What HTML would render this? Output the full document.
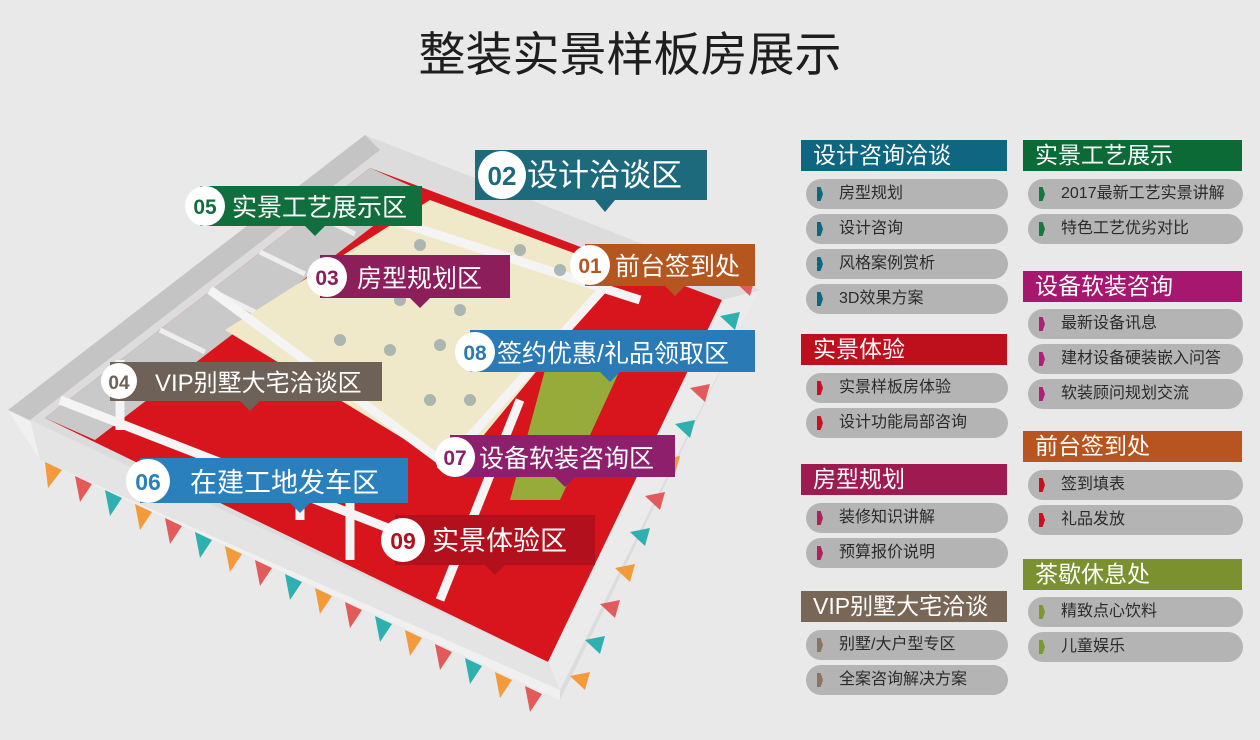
<!DOCTYPE html>
<html><head><meta charset="utf-8"><style>
body{margin:0;width:1260px;height:740px;background:#e9e9e9;position:relative;overflow:hidden;font-family:"Liberation Sans","Noto Sans CJK SC",sans-serif}
.t{position:absolute;left:0;width:1260px;top:16px;text-align:center;font-size:47px;color:#1e1e1e;letter-spacing:0px}
.h{position:absolute;height:31px;line-height:31px;color:#fff;font-size:23px;padding-left:12px;box-sizing:border-box}
.p{position:absolute;height:30px;line-height:30px;background:#b4b4b4;border-radius:15px;font-size:16px;color:#2b2b2b;padding-left:33px;box-sizing:border-box}
.p i{position:absolute;left:11px;top:8px;width:6px;height:14px;clip-path:polygon(0 0,60% 0,100% 50%,60% 100%,0 100%,0 0)}
svg{position:absolute;left:0;top:0}
</style></head><body>
<div class="t">整装实景样板房展示</div>
<svg width="790" height="740" viewBox="0 0 790 740">
<polygon points="8,410 365,135 760,290 560,700" fill="#dcdcdc"/>
<polygon points="8,410 365,135 380,150 30,420" fill="#c4c4c4"/>
<polygon points="45,418 370,168 722,300 548,662" fill="#d8141c"/>
<polygon points="45,418 370,168 420,190 95,440" fill="#c9c9c9"/>
<g stroke="#eeeeee" stroke-width="5">
<line x1="110" y1="368" x2="155" y2="390"/><line x1="160" y1="330" x2="205" y2="352"/><line x1="210" y1="290" x2="255" y2="312"/><line x1="260" y1="252" x2="305" y2="274"/><line x1="310" y1="212" x2="355" y2="234"/>
</g>
<polygon points="225,330 430,200 620,270 455,470" fill="#efe8c9"/>
<polygon points="8,410 40,460 560,700 560,690" fill="#f0f0f0"/>
<polygon points="40,460 30,420 548,662 560,690" fill="#e4e4e4"/>
<polygon points="548,662 560,690 760,290 722,300" fill="#ebebeb"/>
<g stroke="#f4f4f4" stroke-width="9" fill="none">
<line x1="60" y1="400" x2="470" y2="560"/><line x1="210" y1="290" x2="440" y2="460"/>
<line x1="330" y1="200" x2="640" y2="300"/><line x1="440" y1="470" x2="620" y2="270"/>
<line x1="120" y1="360" x2="120" y2="430"/><line x1="300" y1="470" x2="300" y2="520"/>
<line x1="350" y1="500" x2="350" y2="560"/><line x1="520" y1="400" x2="440" y2="600"/>
</g>
<g fill="#9aa" opacity=".8">
<circle cx="420" cy="245" r="6"/><circle cx="350" cy="285" r="6"/><circle cx="400" cy="300" r="6"/><circle cx="460" cy="310" r="6"/><circle cx="520" cy="250" r="6"/><circle cx="560" cy="270" r="6"/><circle cx="340" cy="340" r="6"/><circle cx="390" cy="350" r="6"/><circle cx="440" cy="345" r="6"/><circle cx="470" cy="400" r="6"/><circle cx="430" cy="400" r="6"/>
</g>
<polygon points="545,370 620,370 560,500 510,500" fill="#8cc63f" opacity=".85"/>
<g>
<polygon points="45,462 62,470 48,488" fill="#f39a3a"/><polygon points="75,476 92,484 80,502" fill="#e35a5a"/><polygon points="105,490 122,498 110,516" fill="#2fb0b0"/><polygon points="135,504 152,512 140,530" fill="#f39a3a"/><polygon points="165,518 182,526 170,544" fill="#e35a5a"/><polygon points="195,532 212,540 200,558" fill="#2fb0b0"/><polygon points="225,546 242,554 230,572" fill="#f39a3a"/><polygon points="255,560 272,568 260,586" fill="#e35a5a"/><polygon points="285,574 302,582 290,600" fill="#2fb0b0"/><polygon points="315,588 332,596 320,614" fill="#f39a3a"/><polygon points="345,602 362,610 350,628" fill="#e35a5a"/><polygon points="375,616 392,624 380,642" fill="#2fb0b0"/><polygon points="405,630 422,638 410,656" fill="#f39a3a"/><polygon points="435,644 452,652 440,670" fill="#e35a5a"/><polygon points="465,658 482,666 470,684" fill="#2fb0b0"/><polygon points="495,672 512,680 500,698" fill="#f39a3a"/><polygon points="525,686 542,694 530,712" fill="#e35a5a"/>
<polygon points="570,676 590,672 585,690" fill="#f39a3a"/><polygon points="585,640 605,636 600,654" fill="#2fb0b0"/><polygon points="600,604 620,600 615,618" fill="#e35a5a"/><polygon points="615,568 635,564 630,582" fill="#f39a3a"/><polygon points="630,532 650,528 645,546" fill="#2fb0b0"/><polygon points="645,496 665,492 660,510" fill="#e35a5a"/><polygon points="660,460 680,456 675,474" fill="#f39a3a"/><polygon points="675,424 695,420 690,438" fill="#2fb0b0"/><polygon points="690,388 710,384 705,402" fill="#e35a5a"/><polygon points="705,352 725,348 720,366" fill="#f39a3a"/><polygon points="720,316 740,312 735,330" fill="#2fb0b0"/><polygon points="735,282 755,278 750,296" fill="#e35a5a"/>
</g>
<g font-family="Liberation Sans,Noto Sans CJK SC,sans-serif">
<g><rect x="475" y="150" width="232" height="50" fill="#1d6a7d"/><polygon points="595,200 615,200 605,212" fill="#1d6a7d"/><circle cx="502" cy="175" r="24" fill="#fff"/><text x="502" y="185" font-size="26" font-weight="bold" fill="#1d6a7d" text-anchor="middle">02</text><text x="527" y="186" font-size="31" fill="#fff">设计洽谈区</text></g>
<g><rect x="200" y="186" width="222" height="40" fill="#116f3e"/><polygon points="305,226 325,226 315,236" fill="#116f3e"/><circle cx="205" cy="206" r="20" fill="#fff"/><text x="205" y="214" font-size="21" font-weight="bold" fill="#116f3e" text-anchor="middle">05</text><text x="232" y="216" font-size="25" fill="#fff">实景工艺展示区</text></g>
<g><rect x="585" y="244" width="170" height="42" fill="#b5561f"/><polygon points="665,286 685,286 675,296" fill="#b5561f"/><circle cx="590" cy="265" r="20" fill="#fff"/><text x="590" y="273" font-size="21" font-weight="bold" fill="#b5561f" text-anchor="middle">01</text><text x="615" y="275" font-size="25" fill="#fff">前台签到处</text></g>
<g><rect x="320" y="255" width="190" height="43" fill="#8b1e5b"/><polygon points="410,298 430,298 420,308" fill="#8b1e5b"/><circle cx="327" cy="277" r="20" fill="#fff"/><text x="327" y="285" font-size="21" font-weight="bold" fill="#8b1e5b" text-anchor="middle">03</text><text x="357" y="287" font-size="25" fill="#fff">房型规划区</text></g>
<g><rect x="470" y="330" width="285" height="42" fill="#2a7ab5"/><polygon points="600,372 620,372 610,382" fill="#2a7ab5"/><circle cx="475" cy="352" r="20" fill="#fff"/><text x="475" y="360" font-size="21" font-weight="bold" fill="#2a7ab5" text-anchor="middle">08</text><text x="497" y="362" font-size="25" fill="#fff">签约优惠/礼品领取区</text></g>
<g><rect x="110" y="362" width="272" height="39" fill="#6e6157"/><polygon points="240,401 260,401 250,411" fill="#6e6157"/><circle cx="119" cy="381" r="18" fill="#fff"/><text x="119" y="389" font-size="19" font-weight="bold" fill="#6e6157" text-anchor="middle">04</text><text x="155" y="391" font-size="24" fill="#fff">VIP别墅大宅洽谈区</text></g>
<g><rect x="450" y="435" width="225" height="42" fill="#8e1f6d"/><polygon points="555,477 575,477 565,487" fill="#8e1f6d"/><circle cx="455" cy="457" r="20" fill="#fff"/><text x="455" y="465" font-size="21" font-weight="bold" fill="#8e1f6d" text-anchor="middle">07</text><text x="479" y="467" font-size="25" fill="#fff">设备软装咨询区</text></g>
<g><rect x="140" y="458" width="268" height="45" fill="#2a80bd"/><polygon points="290,503 310,503 300,513" fill="#2a80bd"/><circle cx="148" cy="481" r="22" fill="#fff"/><text x="148" y="490" font-size="23" font-weight="bold" fill="#2a80bd" text-anchor="middle">06</text><text x="190" y="492" font-size="27" fill="#fff">在建工地发车区</text></g>
<g><rect x="395" y="515" width="200" height="50" fill="#b2101c"/><polygon points="485,565 505,565 495,575" fill="#b2101c"/><circle cx="403" cy="540" r="22" fill="#fff"/><text x="403" y="549" font-size="23" font-weight="bold" fill="#b2101c" text-anchor="middle">09</text><text x="432" y="550" font-size="27" fill="#fff">实景体验区</text></g>
</g>
</svg>

<div class="h" style="left:801px;top:140px;width:206px;background:#0e6680">设计咨询洽谈</div>
<div class="p" style="left:806px;top:179px;width:202px"><i style="background:#0e6680"></i>房型规划</div>
<div class="p" style="left:806px;top:214px;width:202px"><i style="background:#0e6680"></i>设计咨询</div>
<div class="p" style="left:806px;top:249px;width:202px"><i style="background:#0e6680"></i>风格案例赏析</div>
<div class="p" style="left:806px;top:284px;width:202px"><i style="background:#0e6680"></i>3D效果方案</div>
<div class="h" style="left:801px;top:334px;width:206px;background:#be0f1c">实景体验</div>
<div class="p" style="left:806px;top:373px;width:202px"><i style="background:#c8101e"></i>实景样板房体验</div>
<div class="p" style="left:806px;top:408px;width:202px"><i style="background:#c8101e"></i>设计功能局部咨询</div>
<div class="h" style="left:801px;top:464px;width:206px;background:#9f1a50">房型规划</div>
<div class="p" style="left:806px;top:503px;width:202px"><i style="background:#b0205e"></i>装修知识讲解</div>
<div class="p" style="left:806px;top:538px;width:202px"><i style="background:#b0205e"></i>预算报价说明</div>
<div class="h" style="left:801px;top:591px;width:206px;background:#786656">VIP别墅大宅洽谈</div>
<div class="p" style="left:806px;top:630px;width:202px"><i style="background:#8a7462"></i>别墅/大户型专区</div>
<div class="p" style="left:806px;top:665px;width:202px"><i style="background:#8a7462"></i>全案咨询解决方案</div>

<div class="h" style="left:1023px;top:140px;width:219px;background:#0c6a37">实景工艺展示</div>
<div class="p" style="left:1028px;top:179px;width:215px"><i style="background:#117a3e"></i>2017最新工艺实景讲解</div>
<div class="p" style="left:1028px;top:214px;width:215px"><i style="background:#117a3e"></i>特色工艺优劣对比</div>
<div class="h" style="left:1023px;top:271px;width:219px;background:#a8176f">设备软装咨询</div>
<div class="p" style="left:1028px;top:309px;width:215px"><i style="background:#b0207a"></i>最新设备讯息</div>
<div class="p" style="left:1028px;top:344px;width:215px"><i style="background:#b0207a"></i>建材设备硬装嵌入问答</div>
<div class="p" style="left:1028px;top:379px;width:215px"><i style="background:#b0207a"></i>软装顾问规划交流</div>
<div class="h" style="left:1023px;top:431px;width:219px;background:#b8541f">前台签到处</div>
<div class="p" style="left:1028px;top:470px;width:215px"><i style="background:#c8101e"></i>签到填表</div>
<div class="p" style="left:1028px;top:505px;width:215px"><i style="background:#c8101e"></i>礼品发放</div>
<div class="h" style="left:1023px;top:559px;width:219px;background:#7b9130">茶歇休息处</div>
<div class="p" style="left:1028px;top:597px;width:215px"><i style="background:#7b9a2e"></i>精致点心饮料</div>
<div class="p" style="left:1028px;top:632px;width:215px"><i style="background:#7b9a2e"></i>儿童娱乐</div>
</body></html>
